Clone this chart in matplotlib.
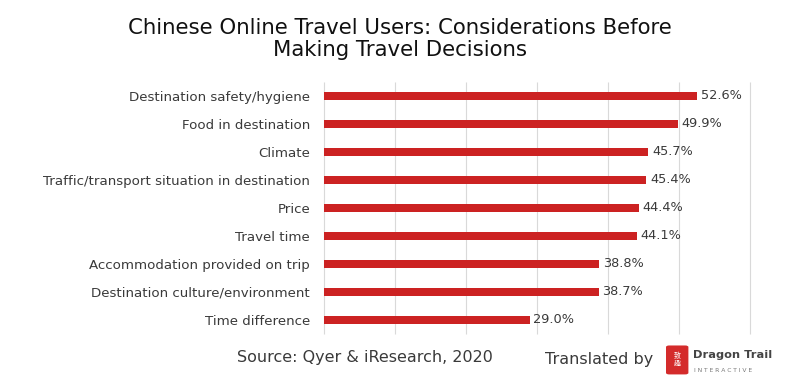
import matplotlib.pyplot as plt
from matplotlib.patches import FancyBboxPatch

categories = ['Destination safety/hygiene', 'Food in destination', 'Climate',
              'Traffic/transport situation in destination', 'Price', 'Travel time',
              'Accommodation provided on trip', 'Destination culture/environment',
              'Time difference']
values = [52.6, 49.9, 45.7, 45.4, 44.4, 44.1, 38.8, 38.7, 29.0]
grid_at = [0, 10, 20, 30, 40, 50, 60]

plt.rcParams['font.family'] = ['DejaVu Sans']
txt = '#3a3a3a'
red = '#cc2222'

fig = plt.figure(figsize=(8, 3.86), dpi=100)
ax = fig.add_axes([0.405, 0.135, 0.5325, 0.653])

y = list(range(len(categories)))
ax.barh(y, values, height=0.3, color=red, zorder=3)
for yi, v in zip(y, values):
    ax.text(v + 0.5, yi, f'{v:.1f}%', va='center', ha='left', fontsize=9.3, color=txt)

ax.set_xlim(0, 60)
ax.set_ylim(len(categories) - 0.5, -0.5)
ax.vlines(grid_at, -0.5, len(categories) - 0.5, color='#d9d9d9', linewidth=0.8,
          zorder=0, clip_on=False)
ax.set_xticks([])
ax.set_yticks(y)
ax.set_yticklabels(categories, fontsize=9.6, color=txt)
ax.tick_params(axis='both', length=0)
ax.tick_params(axis='y', pad=10)
for s in ax.spines.values():
    s.set_visible(False)

fig.text(0.5, 0.899, 'Chinese Online Travel Users: Considerations Before\nMaking Travel Decisions',
         ha='center', va='center', fontsize=15.3, color='#111111', linespacing=1.15)

fig.text(0.456, 0.075, 'Source: Qyer & iResearch, 2020', ha='center', va='center',
         fontsize=11.5, color=txt)
fig.text(0.816, 0.068, 'Translated by', ha='right', va='center', fontsize=11.5, color=txt)

# logo
logo = FancyBboxPatch((0.8325, 0.03), 0.028, 0.075, boxstyle='round,pad=0,rounding_size=0.004',
                      transform=fig.transFigure, facecolor='#d42b2b', edgecolor='none')
fig.patches.append(logo)
fig.text(0.8465, 0.068, '致\n趣', ha='center', va='center', fontsize=5, color='white',
         family=['Noto Sans CJK SC', 'DejaVu Sans'], linespacing=0.9)
fig.text(0.866, 0.08, 'Dragon Trail', ha='left', va='center', fontsize=8.2,
         fontweight='bold', color='#444444')
fig.text(0.867, 0.04, 'I N T E R A C T I V E', ha='left', va='center', fontsize=4.3,
         color='#777777')

fig.savefig('out.png', dpi=100, facecolor='white')
